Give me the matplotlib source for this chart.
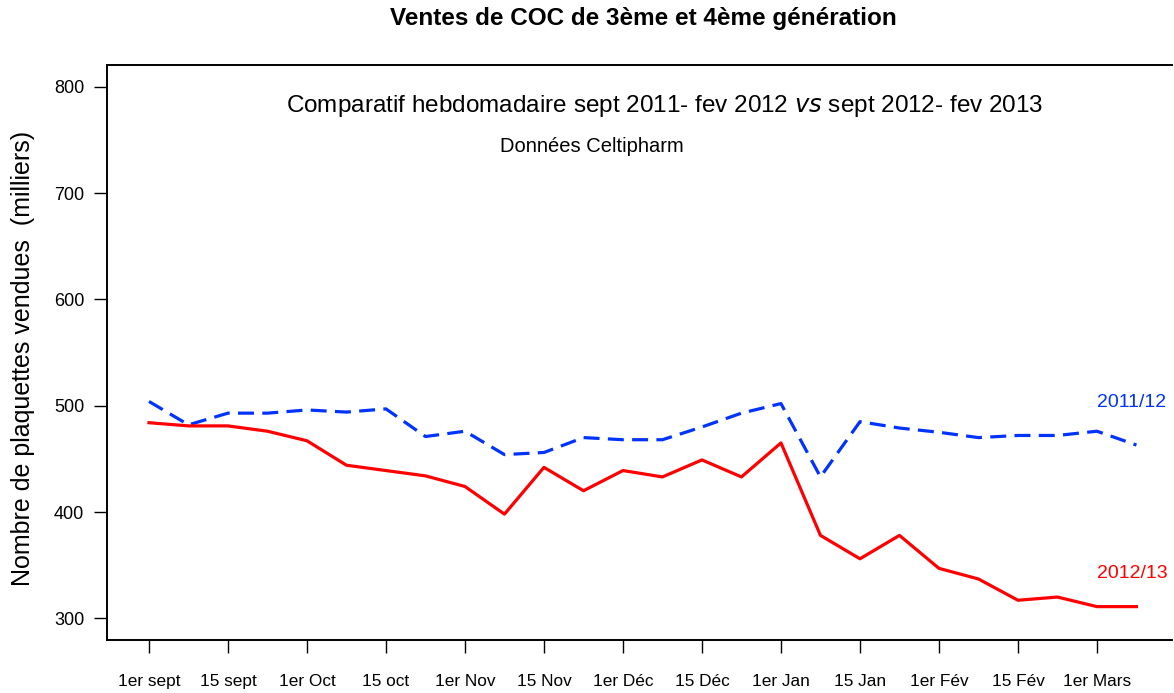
import numpy as np
import matplotlib
matplotlib.use("Agg")
import matplotlib.pyplot as plt

plt.rcParams['font.family'] = ['Liberation Sans', 'DejaVu Sans']

# weekly sales (thousands of blister packs), sept -> early march
sales_2011 = [504, 482, 493, 493, 496, 494, 497, 471, 476, 454, 456, 470, 468,
              468, 480, 493, 502, 433, 485, 479, 475, 470, 472, 472, 476, 463]
sales_2012 = [484, 481, 481, 476, 467, 444, 439, 434, 424, 398, 442, 420, 439,
              433, 449, 433, 465, 378, 356, 378, 347, 337, 317, 320, 311, 311]
tick_labels = ["1er sept", "15 sept", "1er Oct", "15 oct", "1er Nov", "15 Nov",
               "1er Déc", "15 Déc", "1er Jan", "15 Jan", "1er Fév", "15 Fév",
               "1er Mars"]
y_ticks = [300, 400, 500, 600, 700, 800]

weeks = np.arange(len(sales_2011))

fig = plt.figure(figsize=(11.74, 6.93), dpi=100)
ax = fig.add_axes([107/1174, 53/693, 1065/1174, 575/693])

ax.plot(weeks, sales_2011, color='#0033ff', lw=2.3, ls=(0, (5, 2.6)))
ax.plot(weeks, sales_2012, color='#ff0000', lw=2.3)

ax.set_xlim(-1.063, 25.9)
ax.set_ylim(279.6, 820.5)

ax.set_xticks(np.arange(0, 2*len(tick_labels), 2))
ax.set_xticklabels(tick_labels, fontsize=12.4)
ax.set_yticks(y_ticks)
ax.tick_params(axis='x', length=9.4, width=1, pad=15, direction='out')
ax.tick_params(axis='y', length=9.4, width=1, pad=7, labelsize=13, direction='out')
ax.spines['right'].set_visible(False)
for s in ['left', 'top', 'bottom']:
    ax.spines[s].set_linewidth(1.4)

ax.set_ylabel("Nombre de plaquettes vendues  (milliers)", fontsize=18)
ax.yaxis.set_label_coords(-72/1065, 0.49)

fig.text(643.5/1174, 1 - 18/693, "Ventes de COC de 3ème et 4ème génération",
         ha='center', va='center', fontsize=17.5, fontweight='bold')

ax.text(0.5235, 0.9287, "Comparatif hebdomadaire sept 2011- fev 2012 $\\mathit{vs}$ sept 2012- fev 2013",
        transform=ax.transAxes, ha='center', va='center', fontsize=17.5)
ax.text(0.4554, 0.859, "Données Celtipharm", transform=ax.transAxes,
        ha='center', va='center', fontsize=14.5)

ax.text(24.0, 503, "2011/12", color='#0033ff', fontsize=14, ha='left', va='center')
ax.text(24.0, 342.5, "2012/13", color='#ff0000', fontsize=14, ha='left', va='center')

fig.savefig("out.png", dpi=100)
